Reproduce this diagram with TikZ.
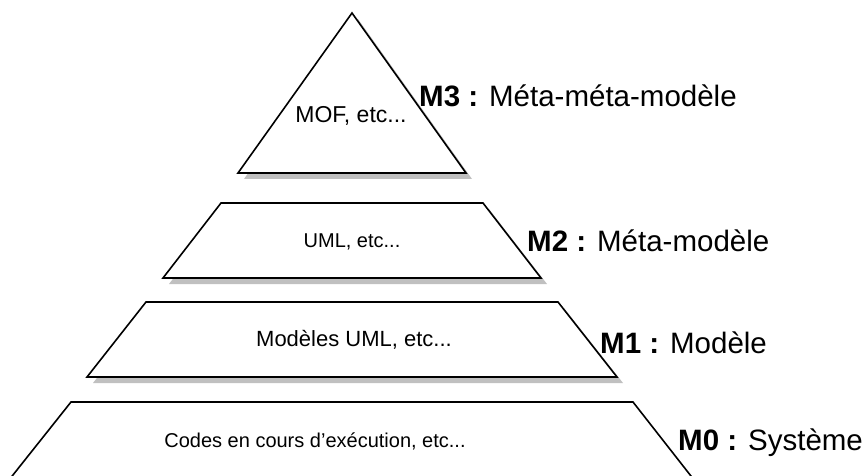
\documentclass[tikz,border=0pt]{standalone}
\usepackage{fontspec}
\setmainfont{Liberation Sans}
\definecolor{shadowgray}{HTML}{C0C0C0}
\begin{document}
\begin{tikzpicture}[x=1pt,y=1pt,
  level/.style={fill=white, draw=black, line width=1.6pt, line join=miter},
  dropshade/.style={fill=shadowgray, shift={(6,-6)}},
  inner/.style={inner sep=0pt, anchor=base},
  lbl/.style={font=\fontsize{29.5}{34}\selectfont, inner sep=0pt, anchor=base west}]
\useasboundingbox (0,0) rectangle (863,475);
\clip (0,0) rectangle (863,475);

% M3 : triangle
\fill[dropshade] (352,462) -- (466,302) -- (238,302) -- cycle;
\draw[level] (352,462) -- (466,302) -- (238,302) -- cycle;
% M2
\fill[dropshade] (221,272) -- (483,272) -- (541,197) -- (163,197) -- cycle;
\draw[level] (221,272) -- (483,272) -- (541,197) -- (163,197) -- cycle;
% M1
\fill[dropshade] (146,173) -- (558,173) -- (617,98) -- (87,98) -- cycle;
\draw[level] (146,173) -- (558,173) -- (617,98) -- (87,98) -- cycle;
% M0 (runs past the lower edge)
\draw[level] (71,73) -- (633,73) -- (698,-10) -- (5,-10) -- cycle;

% contents of each level
\node[inner, font=\fontsize{23}{27}\selectfont] (mof) at (351,352) {MOF, etc...};
\node[inner, font=\fontsize{20}{24}\selectfont] (uml) at (352,228) {UML, etc...};
\node[inner, font=\fontsize{22}{26}\selectfont] (models) at (354,129) {Modèles UML, etc...};
\node[inner, font=\fontsize{20}{24}\selectfont] (codes) at (315,28) {Codes en cours d’exécution, etc...};

% level names
\node[lbl] (m3) at (419,368) {\textbf{M3 :} Méta-méta-modèle};
\node[lbl] (m2) at (527,224) {\textbf{M2 :} Méta-modèle};
\node[lbl] (m1) at (600,122) {\textbf{M1 :} Modèle};
\node[lbl] (m0) at (678,25) {\textbf{M0 :} Système};
\end{tikzpicture}
\end{document}
